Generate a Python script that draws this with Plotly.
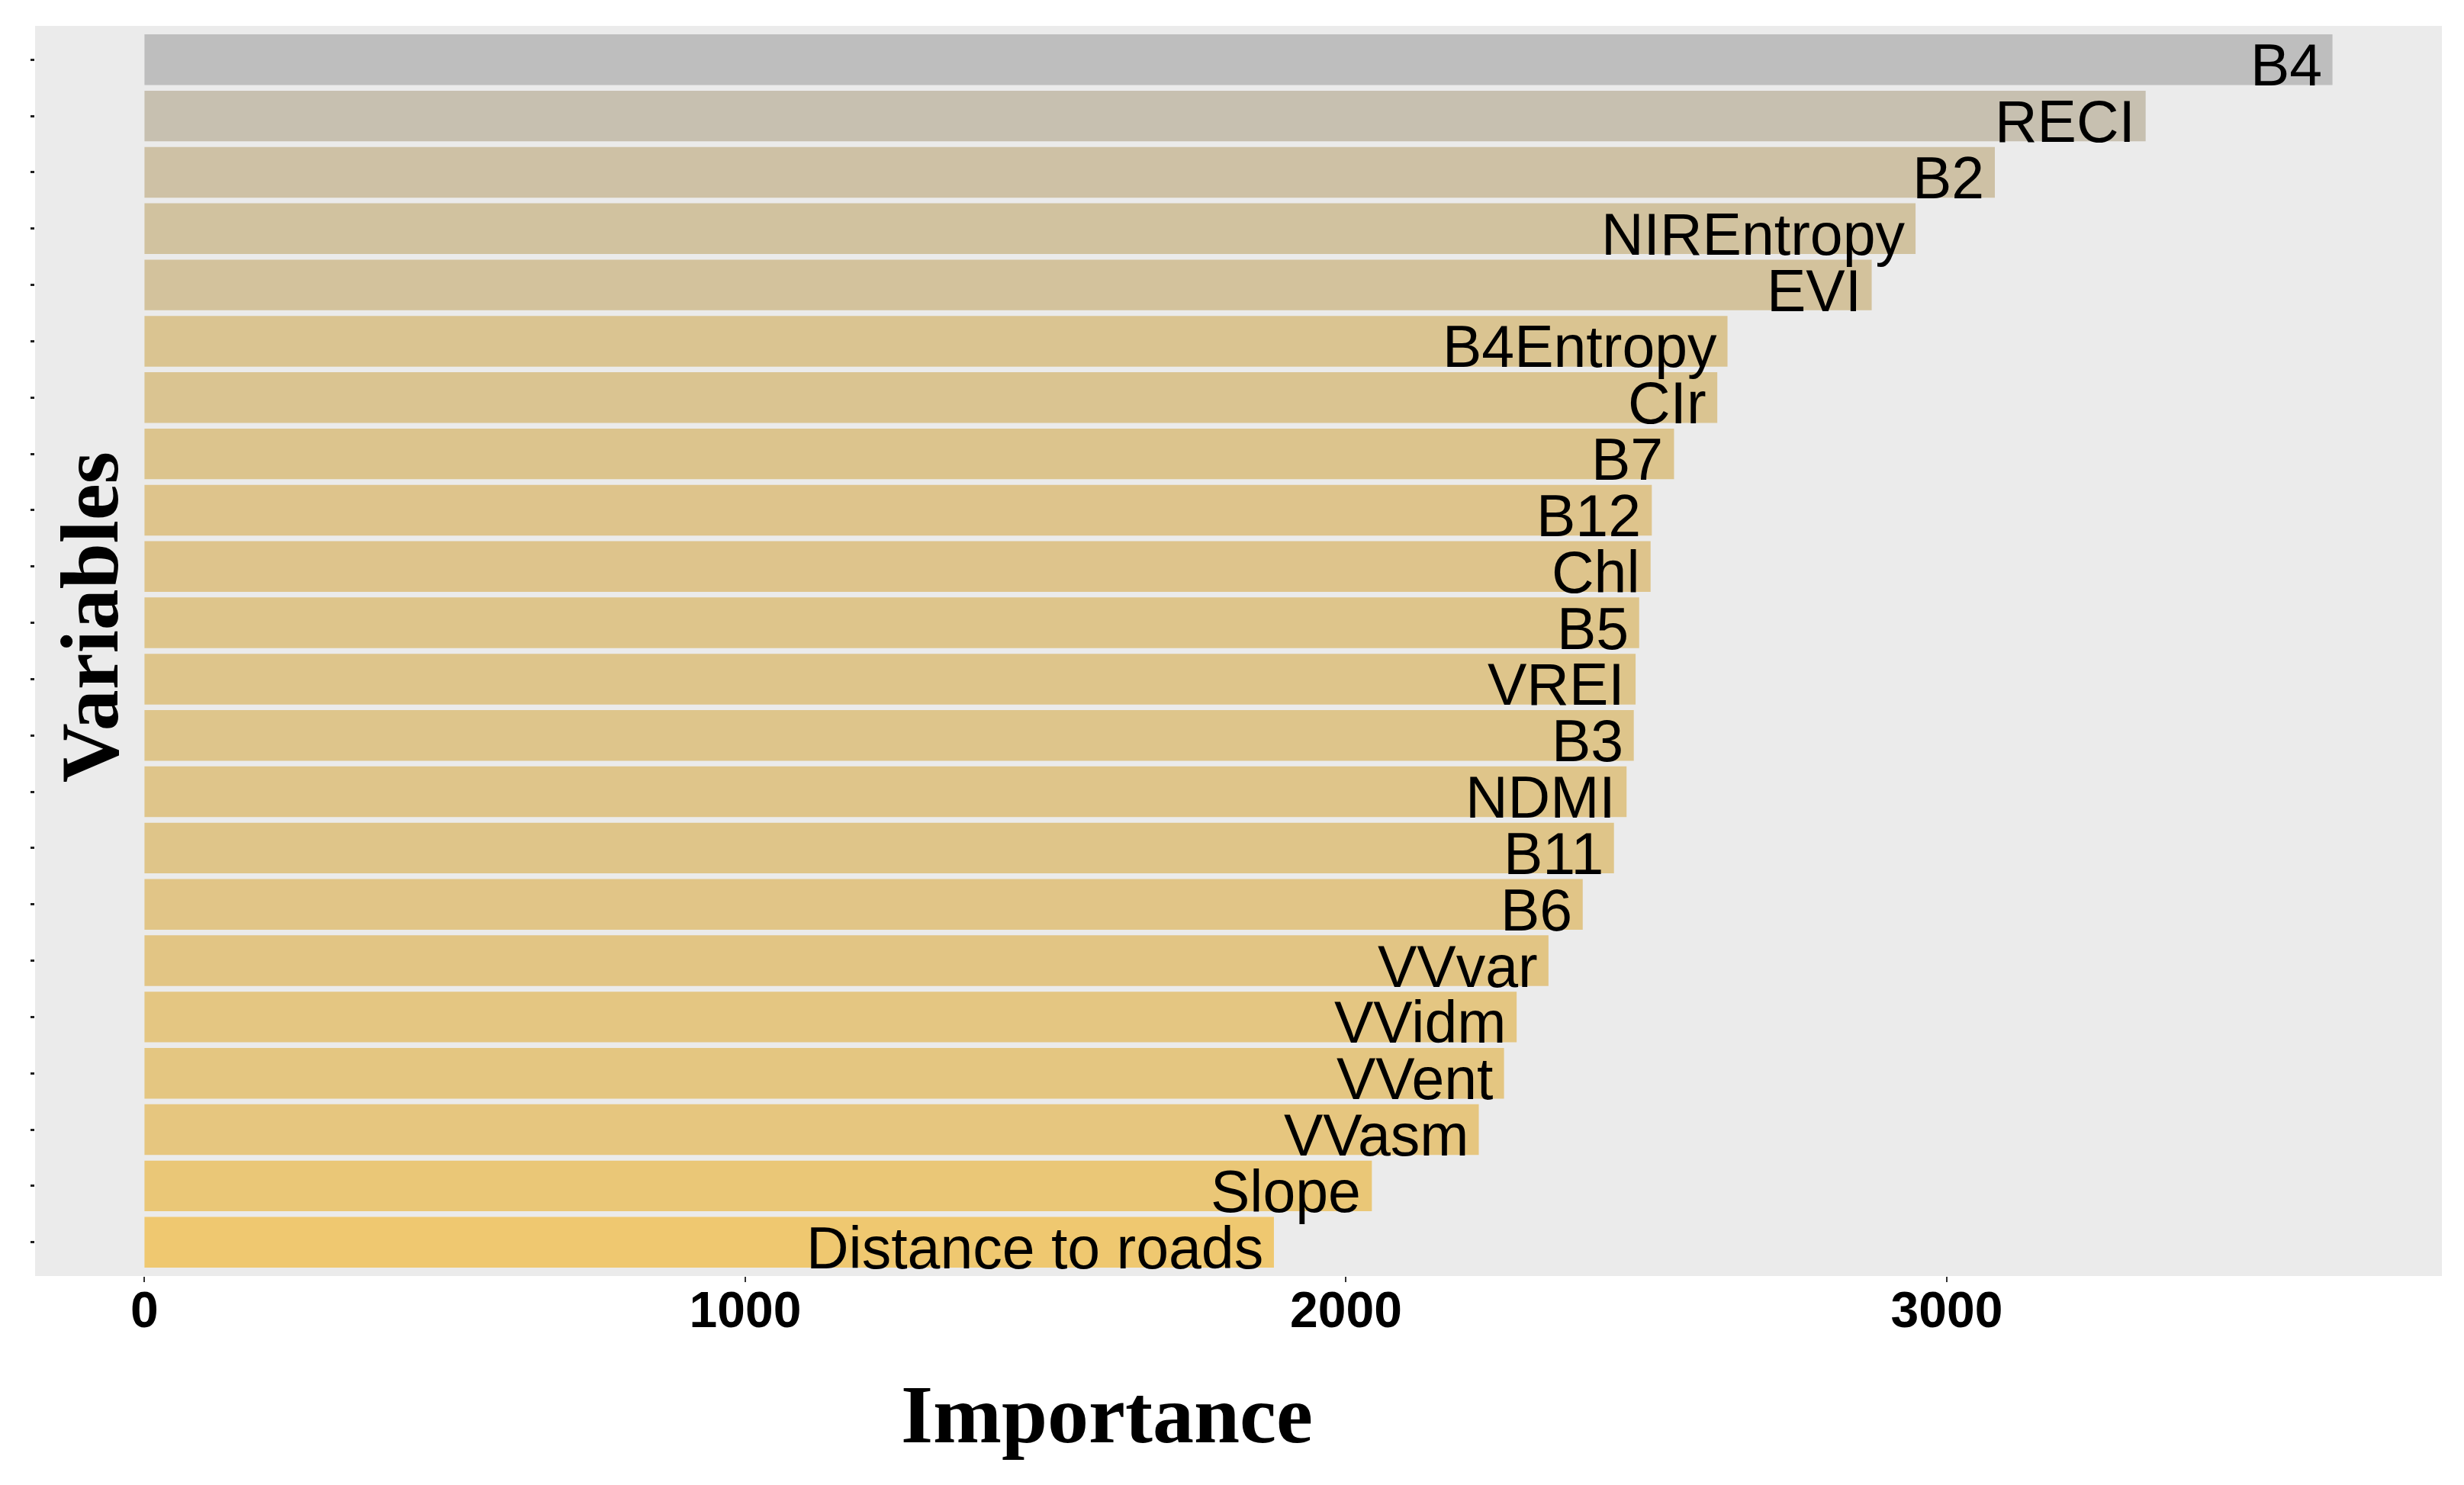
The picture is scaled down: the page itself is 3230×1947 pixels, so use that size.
import plotly.graph_objects as go

# variable importance, top to bottom
variables = ["B4", "RECI", "B2", "NIREntropy", "EVI", "B4Entropy", "CIr", "B7",
             "B12", "Chl", "B5", "VREI", "B3", "NDMI", "B11", "B6", "VVvar",
             "VVidm", "VVent", "VVasm", "Slope", "Distance to roads"]
importance = [3642, 3331, 3080, 2948, 2875, 2635, 2618, 2546,
              2509, 2507, 2488, 2482, 2479, 2467, 2446, 2394, 2337,
              2284, 2263, 2221, 2043, 1880]
x_ticks = [0, 1000, 2000, 3000]

W, H = 3230, 1947
vmax = max(importance)

fig = go.Figure()

fig.add_trace(go.Bar(
    x=importance,
    y=variables,
    orientation="h",
    width=0.9,
    marker=dict(
        color=importance,
        colorscale=[[0, "#EFC870"], [1, "#BEBEBE"]],
        cmin=min(importance),
        cmax=vmax,
        line=dict(width=0),
    ),
    showlegend=False,
))

# labels at the end of each bar (hjust = 1)
labels = [
    dict(text=name, x=val, y=name, xref="x", yref="y",
         xanchor="right", yanchor="middle", xshift=-12, yshift=-7,
         showarrow=False,
         font=dict(family="Liberation Sans, Arial", size=77, color="#000000"))
    for name, val in zip(variables, importance)
]

titles = [
    dict(text="<b>Importance</b>", x=0.4454, y=-0.111, xref="paper", yref="paper",
         xanchor="center", yanchor="middle", showarrow=False,
         font=dict(family="Liberation Serif, Times New Roman", size=108, color="#000000")),
    dict(text="<b>Variables</b>", x=0.0225, y=0.527, xref="paper", yref="paper",
         xanchor="center", yanchor="middle", textangle=-90, showarrow=False,
         font=dict(family="Liberation Serif, Times New Roman", size=108, color="#000000")),
]

fig.update_layout(
    width=W,
    height=H,
    paper_bgcolor="white",
    plot_bgcolor="#EBEBEB",
    margin=dict(l=38, r=37, t=26, b=282),
    bargap=0.1,
    xaxis=dict(
        range=[-0.05 * vmax, 1.05 * vmax],
        tickvals=x_ticks,
        ticktext=[str(v) for v in x_ticks],
        showgrid=False,
        zeroline=False,
        ticks="outside",
        ticklen=7,
        tickwidth=2,
        tickcolor="#333333",
        ticklabelstandoff=-20,
        tickfont=dict(family="Liberation Sans, Arial", size=66, color="#000000", weight="bold"),
    ),
    yaxis=dict(
        categoryorder="array",
        categoryarray=variables[::-1],
        range=[-0.6, len(variables) - 0.4],
        showgrid=False,
        zeroline=False,
        showticklabels=False,
        ticks="outside",
        ticklen=5,
        tickwidth=3,
        tickcolor="#222222",
    ),
    annotations=labels + titles,
)

fig.write_html("out.html")
